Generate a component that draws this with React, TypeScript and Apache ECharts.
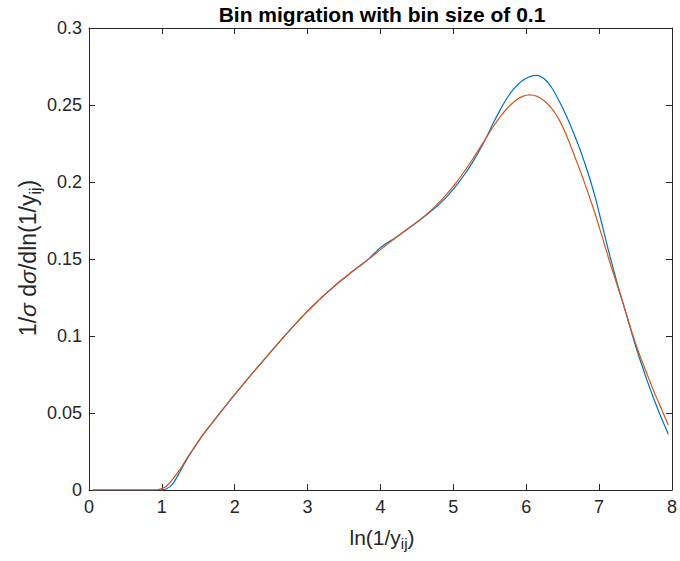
import React, { useEffect, useRef } from "react";
import * as echarts from "echarts";

const xValues = [
  0.05, 0.15, 0.25, 0.35, 0.45, 0.55, 0.65, 0.75, 0.85, 0.95,
  1.05, 1.15, 1.25, 1.35, 1.45, 1.55, 1.65, 1.75, 1.85, 1.95,
  2.05, 2.15, 2.25, 2.35, 2.45, 2.55, 2.65, 2.75, 2.85, 2.95,
  3.05, 3.15, 3.25, 3.35, 3.45, 3.55, 3.65, 3.75, 3.85, 3.95,
  4.05, 4.15, 4.25, 4.35, 4.45, 4.55, 4.65, 4.75, 4.85, 4.95,
  5.05, 5.15, 5.25, 5.35, 5.45, 5.55, 5.65, 5.75, 5.85, 5.95,
  6.05, 6.15, 6.25, 6.35, 6.45, 6.55, 6.65, 6.75, 6.85, 6.95,
  7.05, 7.15, 7.25, 7.35, 7.45, 7.55, 7.65, 7.75, 7.85, 7.95,
];

const blueValues = [
  0, 0, 0, 0, 0, 0, 0, 0, 0, 0,
  0.0005, 0.004, 0.012, 0.0205, 0.028, 0.035, 0.0412, 0.0472, 0.0532, 0.0591,
  0.0649, 0.0706, 0.0762, 0.0818, 0.0873, 0.0928, 0.0982, 0.1035, 0.1087, 0.1137,
  0.1185, 0.1231, 0.1275, 0.1317, 0.1357, 0.1395, 0.1432, 0.1468, 0.1506, 0.1553,
  0.1593, 0.1621, 0.1653, 0.1687, 0.1721, 0.1756, 0.1793, 0.1832, 0.1876, 0.1926,
  0.1983, 0.2047, 0.2118, 0.2198, 0.2288, 0.2385, 0.2475, 0.2555, 0.2616, 0.2659,
  0.2684, 0.2692, 0.2669, 0.2612, 0.2528, 0.243, 0.2318, 0.2195, 0.2055, 0.1895,
  0.1705, 0.1515, 0.134, 0.1178, 0.1015, 0.0862, 0.0722, 0.0592, 0.0472, 0.0362,
];

const orangeValues = [
  0, 0, 0, 0, 0, 0, 0, 0, 0, 0.0003,
  0.002, 0.007, 0.0135, 0.021, 0.028, 0.035, 0.0412, 0.0472, 0.0532, 0.0591,
  0.0649, 0.0706, 0.0762, 0.0818, 0.0873, 0.0928, 0.0982, 0.1035, 0.1087, 0.1137,
  0.1185, 0.1231, 0.1275, 0.1317, 0.1357, 0.1395, 0.1432, 0.1468, 0.1504, 0.1542,
  0.158, 0.1617, 0.1653, 0.1688, 0.1723, 0.1759, 0.1798, 0.1842, 0.189, 0.1944,
  0.2003, 0.2068, 0.2138, 0.2212, 0.2287, 0.2362, 0.2428, 0.2484, 0.2528, 0.2556,
  0.2566, 0.2556, 0.2526, 0.2478, 0.2405, 0.2305, 0.2185, 0.206, 0.1928, 0.1786,
  0.1632, 0.1474, 0.1328, 0.118, 0.1025, 0.0885, 0.0762, 0.0642, 0.0532, 0.0422,
];

const xTicks = { min: 0, max: 8, interval: 1 };
const yTicks = { min: 0, max: 0.3, interval: 0.05 };

const titleText = "Bin migration with bin size of 0.1";
const xLabelPieces = [
  { t: "ln(1/y", sub: false, italic: false },
  { t: "ij", sub: true, italic: false },
  { t: ")", sub: false, italic: false },
];
const yLabelPieces = [
  { t: "1/", sub: false, italic: false },
  { t: "σ", sub: false, italic: true },
  { t: " d", sub: false, italic: false },
  { t: "σ", sub: false, italic: true },
  { t: "/dln(1/y", sub: false, italic: false },
  { t: "ij", sub: true, italic: false },
  { t: ")", sub: false, italic: false },
];

const FONT = '"Liberation Sans", Arial, Helvetica, sans-serif';
const TEXT_COLOR = "#262626";

function buildLabel(pieces, size, subSize) {
  const canvas = document.createElement("canvas");
  const ctx = canvas.getContext("2d");
  const items = pieces.map((p) => {
    const fs = p.sub ? subSize : size;
    const font = `${p.italic ? "italic " : ""}${fs}px ${FONT}`;
    ctx.font = font;
    const w = ctx.measureText(p.t).width;
    return { ...p, font, w };
  });
  const total = items.reduce((s, it) => s + it.w, 0);
  let x = -total / 2;
  const children = items.map((it) => {
    const el = {
      type: "text",
      x,
      y: it.sub ? size * 0.32 : 0,
      style: {
        text: it.t,
        font: it.font,
        fill: TEXT_COLOR,
        textAlign: "left",
        textVerticalAlign: "middle",
        align: "left",
        verticalAlign: "middle",
      },
    };
    x += it.w;
    return el;
  });
  return children;
}

export default function App() {
  const ref = useRef(null);
  useEffect(() => {
    const chart = echarts.init(ref.current, null, { renderer: "svg" });
    const axisLine = { show: true, onZero: false, lineStyle: { color: TEXT_COLOR, width: 1 } };
    const tick = { show: true, inside: true, length: 6, lineStyle: { color: TEXT_COLOR, width: 1 } };
    const option = {
      animation: false,
      backgroundColor: "#ffffff",
      grid: { left: 89, right: 5, top: 28, bottom: 71, containLabel: false },
      xAxis: [
        {
          type: "value",
          ...xTicks,
          position: "bottom",
          axisLine,
          axisTick: tick,
          splitLine: { show: false },
          axisLabel: { color: TEXT_COLOR, fontSize: 18, fontFamily: FONT, margin: 8 },
        },
        {
          type: "value",
          ...xTicks,
          position: "top",
          axisLine,
          axisTick: tick,
          splitLine: { show: false },
          axisLabel: { show: false },
        },
      ],
      yAxis: [
        {
          type: "value",
          ...yTicks,
          position: "left",
          axisLine,
          axisTick: tick,
          splitLine: { show: false },
          axisLabel: { color: TEXT_COLOR, fontSize: 18, fontFamily: FONT, margin: 7 },
        },
        {
          type: "value",
          ...yTicks,
          position: "right",
          axisLine,
          axisTick: tick,
          splitLine: { show: false },
          axisLabel: { show: false },
        },
      ],
      series: [
        {
          name: "blue",
          type: "line",
          xAxisIndex: 0,
          yAxisIndex: 0,
          showSymbol: false,
          symbol: "none",
          smooth: 0.2,
          lineStyle: { color: "#0072BD", width: 1.2 },
          data: xValues.map((x, i) => [x, blueValues[i]]),
        },
        {
          name: "orange",
          type: "line",
          xAxisIndex: 0,
          yAxisIndex: 0,
          showSymbol: false,
          symbol: "none",
          smooth: 0.2,
          lineStyle: { color: "#D95319", width: 1.2 },
          data: xValues.map((x, i) => [x, orangeValues[i]]),
        },
      ],
      graphic: [
        {
          type: "text",
          x: 382,
          y: 14,
          style: {
            text: titleText,
            font: `bold 21px ${FONT}`,
            fill: "#000000",
            textAlign: "center",
            textVerticalAlign: "middle",
            align: "center",
            verticalAlign: "middle",
          },
        },
        {
          type: "group",
          x: 382,
          y: 537,
          children: buildLabel(xLabelPieces, 21, 15),
        },
        {
          type: "group",
          x: 28,
          y: 258,
          rotation: Math.PI / 2,
          children: buildLabel(yLabelPieces, 23, 16),
        },
      ],
    };
    chart.setOption(option);
    return () => chart.dispose();
  }, []);
  return (
    <div
      ref={ref}
      style={{ position: "fixed", left: 0, top: 0, width: 680, height: 561, background: "#fff" }}
    />
  );
}
